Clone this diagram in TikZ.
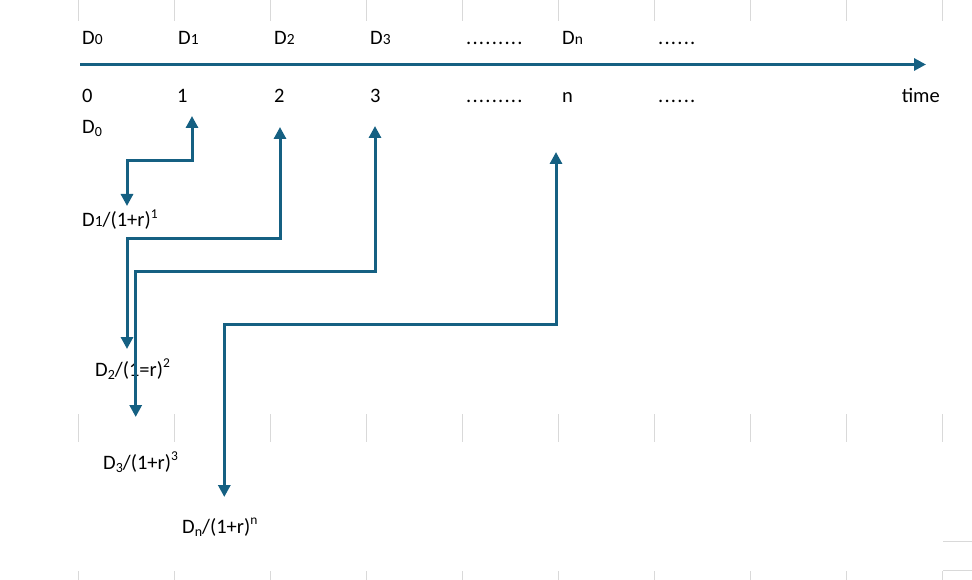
\documentclass[tikz,border=0pt]{standalone}
\usepackage{fontspec}
\setmainfont{Carlito}
\usetikzlibrary{arrows.meta}
\definecolor{acc}{HTML}{156082}
\definecolor{gridc}{HTML}{D9D9D9}
\newcommand\smd[1]{{\fontsize{15.5}{15.5}\selectfont #1}}
\newcommand\lowd[1]{\raisebox{-3pt}{\fontsize{14}{14}\selectfont #1}}
\newcommand\upd[1]{\raisebox{8.5pt}{\fontsize{13.5}{13.5}\selectfont #1}}
\newcommand\onedot{\makebox[6.4pt][l]{.}}
\begin{document}
\begin{tikzpicture}[x=1pt,y=-1pt,
  lbl/.style={anchor=base west, inner sep=0pt, font=\fontsize{20.5}{24}\selectfont},
  conn/.style={draw=acc, line width=3pt, arrows={Triangle[length=12pt,width=12pt]-Triangle[length=12pt,width=12pt]}},
  axisline/.style={draw=acc, line width=3pt, arrows={-Triangle[length=12pt,width=12pt]}},
  gridl/.style={draw=gridc, line width=1pt}]
\useasboundingbox (0,0) rectangle (972,580);
% faint sheet grid marks
\foreach \k in {0,...,9}{
  \draw[gridl] (78.3+96*\k,0) -- (78.3+96*\k,21.5);
  \draw[gridl] (78.3+96*\k,414) -- (78.3+96*\k,442);
  \draw[gridl] (78.3+96*\k,571) -- (78.3+96*\k,580);
}
\draw[gridl] (943,541.3) -- (972,541.3);
\draw[gridl] (943,570.3) -- (972,570.3);
% time axis
\coordinate (axS) at (80,64.5);
\coordinate (axE) at (926,64.5);
\draw[axisline] (axS) -- (axE);
% top row
\node[lbl] (d0) at (82,45) {D\smd{0}};
\node[lbl] (d1) at (178,45) {D\smd{1}};
\node[lbl] (d2) at (274,45) {D\smd{2}};
\node[lbl] (d3) at (370,45) {D\smd{3}};
\node[lbl] (dd1) at (466,45) {\onedot\onedot\onedot\onedot\onedot\onedot\onedot\onedot\onedot};
\node[lbl] (dn) at (562,45) {D\smd{n}};
\node[lbl] (dd2) at (658,45) {\onedot\onedot\onedot\onedot\onedot\onedot};
% bottom row
\node[lbl] (t0) at (82,103) {0};
\node[lbl] (t1) at (177,103) {1};
\node[lbl] (t2) at (274,103) {2};
\node[lbl] (t3) at (370,103) {3};
\node[lbl] (td1) at (466,103) {\onedot\onedot\onedot\onedot\onedot\onedot\onedot\onedot\onedot};
\node[lbl] (tn) at (562,103) {n};
\node[lbl] (td2) at (658,103) {\onedot\onedot\onedot\onedot\onedot\onedot};
\node[lbl, anchor=base east] (time) at (940,103) {time};
% present values
\node[lbl] (pv0) at (82,134) {D\lowd{0}};
\node[lbl] (pv1) at (82,227) {D\smd{1}/(1+r)\upd{1}};
\node[lbl] (pv2) at (95,376) {D\lowd{2}/(1=r)\upd{2}};
\node[lbl] (pv3) at (103,469) {D\lowd{3}/(1+r)\upd{3}};
\node[lbl] (pvn) at (182,533) {D\lowd{n}/(1+r)\upd{n}};
% connector ends
\coordinate (a1) at (192,116);  \coordinate (c1) at (127,161);   \coordinate (b1) at (127,206);
\coordinate (a2) at (280,127);  \coordinate (c2) at (127,239);   \coordinate (b2) at (127,349);
\coordinate (a3) at (375,126);  \coordinate (c3) at (135.7,271.7); \coordinate (b3) at (135.7,417);
\coordinate (an) at (556,152);  \coordinate (cn) at (224.3,324.3); \coordinate (bn) at (224.3,497);
\draw[conn] (a1) |- (c1) -- (b1);
\draw[conn] (a2) |- (c2) -- (b2);
\draw[conn] (a3) |- (c3) -- (b3);
\draw[conn] (an) |- (cn) -- (bn);
\end{tikzpicture}
\end{document}
